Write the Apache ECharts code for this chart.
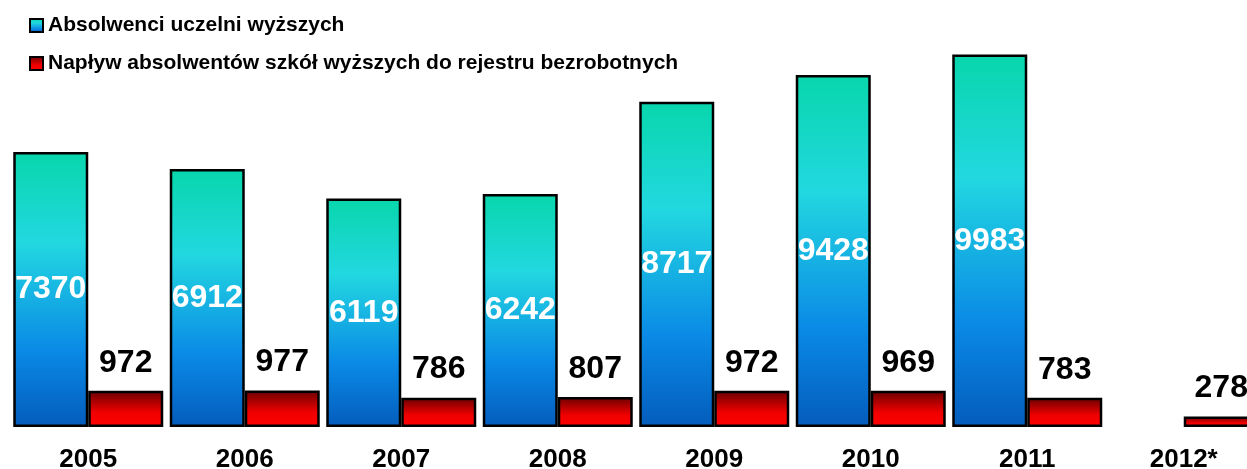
<!DOCTYPE html>
<html>
<head>
<meta charset="utf-8">
<script src="https://cdn.jsdelivr.net/npm/echarts@6/dist/echarts.min.js"></script>
<style>
  html, body { margin: 0; padding: 0; background: #fff; }
  #chart { width: 1247px; height: 469px; }
</style>
</head>
<body>
<div id="chart"></div>
<script>
const years = ['2005', '2006', '2007', '2008', '2009', '2010', '2011', '2012*']
const graduates = [7370, 6912, 6119, 6242, 8717, 9428, 9983, null]
const unemployedInflow = [972, 977, 786, 807, 972, 969, 783, 278]

const font = 'Arial, "Liberation Sans", sans-serif'

const chart = echarts.init(document.getElementById('chart'))

const blueFill = new echarts.graphic.LinearGradient(0, 0, 0, 1, [
  { offset: 0, color: '#08d6ac' },
  { offset: 0.33, color: '#22d8e0' },
  { offset: 0.72, color: '#0a8ae6' },
  { offset: 1, color: '#045cbc' }
])
const redFill = new echarts.graphic.LinearGradient(0, 0, 0, 1, [
  { offset: 0, color: '#6a0000' },
  { offset: 0.6, color: '#f00000' },
  { offset: 1, color: '#ff0000' }
])

const option = {
  animation: false,
  backgroundColor: '#fff',
  legend: {
    orient: 'vertical',
    left: 24,
    top: 10,
    itemWidth: 13,
    itemHeight: 13,
    itemGap: 17,
    icon: 'rect',
    textStyle: {
      fontFamily: font,
      fontWeight: 'bold',
      fontSize: 21,
      color: '#000'
    },
    data: ['Absolwenci uczelni wyższych', 'Napływ absolwentów szkół wyższych do rejestru bezrobotnych']
  },
  grid: {
    left: 10,
    top: 0,
    width: 1252,
    bottom: 42,
    outerBoundsMode: 'none',
    containLabel: false
  },
  xAxis: {
    type: 'category',
    data: years,
    axisLine: { show: false },
    axisTick: { show: false },
    axisLabel: {
      margin: 20,
      fontFamily: font,
      fontWeight: 'bold',
      fontSize: 26,
      color: '#000'
    }
  },
  yAxis: {
    type: 'value',
    min: 0,
    max: 11440,
    show: false,
    splitLine: { show: false }
  },
  series: [
    {
      name: 'Absolwenci uczelni wyższych',
      type: 'bar',
      data: graduates,
      barWidth: 75,
      barGap: '0%',
      itemStyle: { color: blueFill, borderColor: '#000', borderWidth: 2.5 },
      label: {
        show: true,
        position: 'inside',
        fontFamily: font,
        fontWeight: 'bold',
        fontSize: 32,
        color: '#fff'
      }
    },
    {
      name: 'Napływ absolwentów szkół wyższych do rejestru bezrobotnych',
      type: 'bar',
      data: unemployedInflow,
      barWidth: 75,
      barGap: '0%',
      itemStyle: { color: redFill, borderColor: '#000', borderWidth: 2.5 },
      label: {
        show: true,
        position: 'top',
        distance: 12,
        fontFamily: font,
        fontWeight: 'bold',
        fontSize: 32,
        color: '#000'
      }
    }
  ]
}

chart.setOption(option)
window.addEventListener('resize', () => chart.resize())
</script>
</body>
</html>
